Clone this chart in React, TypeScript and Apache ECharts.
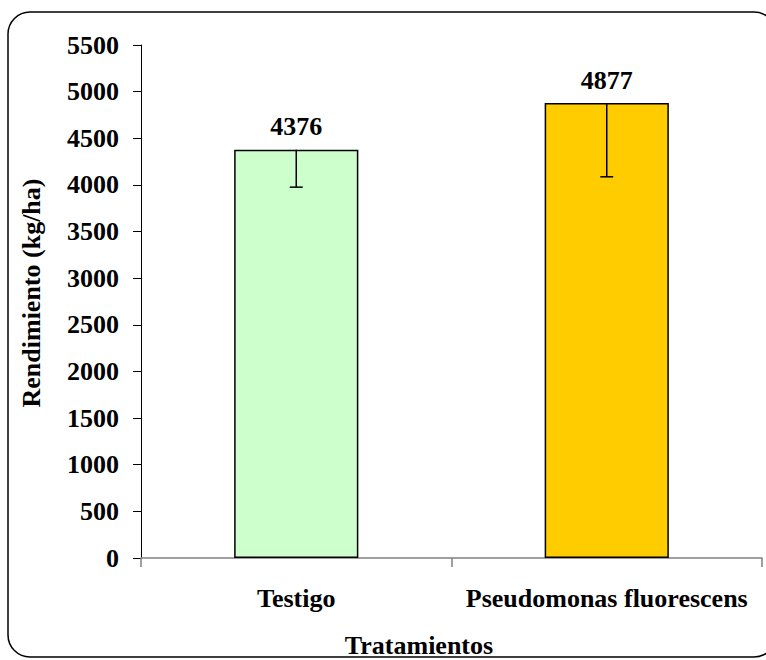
import React, { useEffect, useRef } from "react";
import * as echarts from "echarts";

const categories = ["Testigo", "Pseudomonas fluorescens"];
const values = [4376, 4877];
const errorMinus = [400, 790];
const barColors = ["#CCFFCC", "#FFCC00"];
const yTicks = { min: 0, max: 5500, interval: 500 };

const FONT = '"Liberation Serif", "Times New Roman", serif';

export default function App() {
  const ref = useRef<HTMLDivElement>(null);
  useEffect(() => {
    if (!ref.current) return;
    const chart = echarts.init(ref.current, null, { renderer: "svg" });
    const textStyle = { fontFamily: FONT, fontWeight: "bold", fontSize: 26, color: "#000" };
    chart.setOption({
      animation: false,
      backgroundColor: "#fff",
      grid: { left: 141, right: 4, top: 45, bottom: 102, containLabel: false },
      xAxis: {
        type: "category",
        data: categories,
        axisLine: { show: true, lineStyle: { color: "#808080", width: 1.5 } },
        axisTick: { show: true, length: 9, lineStyle: { color: "#808080", width: 1.5 } },
        axisLabel: { ...textStyle, margin: 27, interval: 0 },
        splitLine: { show: false },
      },
      yAxis: {
        type: "value",
        min: yTicks.min,
        max: yTicks.max,
        interval: yTicks.interval,
        axisLine: { show: true, lineStyle: { color: "#000", width: 1 } },
        axisTick: { show: true, length: 8, lineStyle: { color: "#000", width: 1 } },
        axisLabel: { ...textStyle, margin: 22, formatter: (v: number) => String(v) },
        splitLine: { show: false },
      },
      graphic: [
        {
          type: "rect",
          shape: { x: 8, y: 12, width: 768, height: 645, r: 22 },
          style: { fill: "none", stroke: "#000", lineWidth: 1.5 },
          silent: true,
          z: 0,
        },
        {
          type: "text",
          x: 31,
          y: 293,
          rotation: Math.PI / 2,
          style: {
            text: "Rendimiento (kg/ha)",
            font: `bold 26px ${FONT}`,
            fill: "#000",
            align: "center",
            verticalAlign: "middle",
          },
        },
        {
          type: "text",
          x: 419,
          y: 645,
          style: {
            text: "Tratamientos",
            font: `bold 26px ${FONT}`,
            fill: "#000",
            align: "center",
            verticalAlign: "middle",
          },
        },
      ],
      series: [
        {
          type: "bar",
          barWidth: "40%",
          data: values.map((v, i) => ({
            value: v,
            itemStyle: { color: barColors[i], borderColor: "#000", borderWidth: 1.5 },
          })),
          label: { show: true, position: "top", distance: 10, ...textStyle },
          z: 2,
        },
        {
          type: "custom",
          z: 3,
          data: values.map((v, i) => [i, v, v - errorMinus[i]]),
          renderItem: (params: any, api: any) => {
            const top = api.coord([api.value(0), api.value(1)]);
            const bot = api.coord([api.value(0), api.value(2)]);
            const hw = 6.5;
            const style = { stroke: "#000", lineWidth: 1.5 };
            return {
              type: "group",
              children: [
                { type: "line", shape: { x1: top[0], y1: top[1], x2: bot[0], y2: bot[1] }, style },
                { type: "line", shape: { x1: bot[0] - hw, y1: bot[1], x2: bot[0] + hw, y2: bot[1] }, style },
              ],
            };
          },
        },
      ],
    });
    return () => chart.dispose();
  }, []);
  return (
    <div
      ref={ref}
      style={{ position: "absolute", left: 0, top: 0, width: 766, height: 660 }}
    />
  );
}
